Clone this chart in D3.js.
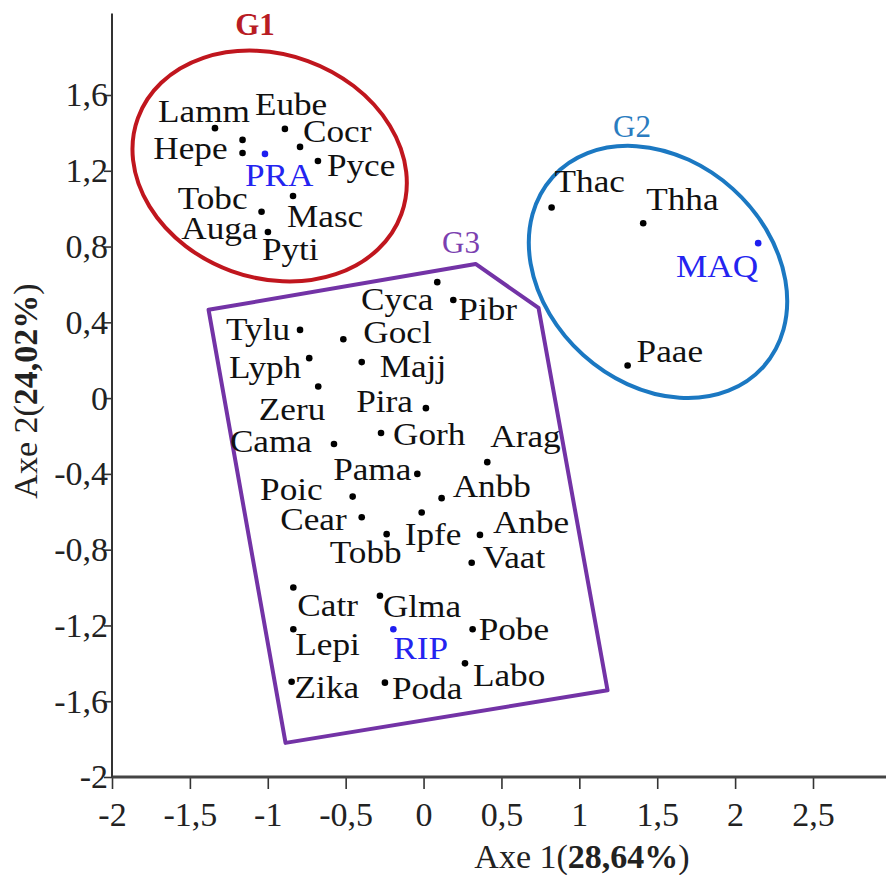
<!DOCTYPE html>
<html>
<head>
<meta charset="utf-8">
<script src="https://cdn.jsdelivr.net/npm/d3@7/dist/d3.min.js"></script>
<style>
  body { margin: 0; background: #fff; }
  svg text { font-family: "Liberation Serif", "Times New Roman", serif; }
</style>
</head>
<body>
<div id="graf"></div>
<script>
// species coordinates on the first factorial plane
const species = ['Lamm','Hepe','Tobc','Eube','Cocr','Pyce','Masc','Auga','Pyti',
  'Thac','Thha','Paae',
  'Cyca','Pibr','Tylu','Gocl','Lyph','Majj','Zeru','Pira','Gorh','Cama','Arag','Pama',
  'Anbb','Poic','Cear','Ipfe','Tobb','Anbe','Vaat','Catr','Glma','Lepi','Pobe','Labo','Zika','Poda']
const axe1 = [-1.339,-1.162,-1.162,-0.890,-0.793,-0.678,-0.838,-1.040,-0.999,
  0.822,1.410,1.310,
  0.088,0.191,-0.793,-0.515,-0.734,-0.397,-0.676,0.015,-0.273,-0.575,0.409,-0.040,
  0.116,-0.455,-0.397,-0.012,-0.237,0.362,0.309,-0.836,-0.280,-0.836,0.315,0.266,-0.847,-0.248]
const axe2 = [1.425,1.363,1.294,1.421,1.326,1.252,1.067,0.984,0.877,
  1.006,0.923,0.172,
  0.612,0.518,0.360,0.311,0.211,0.190,0.061,-0.053,-0.184,-0.242,-0.338,-0.400,
  -0.528,-0.520,-0.629,-0.604,-0.718,-0.722,-0.869,-1.000,-1.043,-1.220,-1.220,-1.400,-1.497,-1.502]

// habitats (supplementary points, blue)
const habitats = ['PRA','MAQ','RIP']
const habAxe1 = [-1.018, 2.148, -0.194]
const habAxe2 = [1.289, 0.818, -1.220]

// group outlines, in axis units
const groups = ['G1','G2']
const grpCx = [-0.988, 1.505]
const grpCy = [1.225, 0.666]
const grpRx = [0.90, 0.91]
const grpRy = [0.59, 0.59]
const g3Axe1 = [-1.380, 0.334, 0.738, 1.181, -0.886]
const g3Axe2 = [0.466, 0.708, 0.476, -1.542, -1.820]

const xTicks = [-2,-1.5,-1,-0.5,0,0.5,1,1.5,2,2.5]
const yTicks = [-2,-1.6,-1.2,-0.8,-0.4,0,0.4,0.8,1.2,1.6]

// label placement: [dx, dy, anchor]
const lab = {
  Lamm:[35,-6,'end'], Hepe:[-15,19,'end'], Tobc:[5,56,'end'], Eube:[-30,-14,'start'],
  Cocr:[3,-5,'start'], Pyce:[9,15,'start'], Masc:[-6,31,'start'], Auga:[-4,27,'end'],
  Pyti:[-6,28,'start'], PRA:[-20,32,'start'],
  Thac:[3,-16,'start'], Thha:[3,-13,'start'], Paae:[9,-4,'start'], MAQ:[0,34,'end'],
  Cyca:[-4,28,'end'], Pibr:[5,20,'start'], Tylu:[-10,10,'end'], Gocl:[20,4,'start'],
  Lyph:[-8,20,'end'], Majj:[18,15,'start'], Zeru:[7,33,'end'], Pira:[-13,4,'end'],
  Gorh:[12,12,'start'], Cama:[-22,8,'end'], Arag:[3,-15,'start'], Pama:[-6,6,'end'],
  Anbb:[11,-1,'start'], Poic:[-30,3,'end'], Cear:[-15,13,'end'], Ipfe:[-17,32,'start'],
  Tobb:[15,29,'end'], Anbe:[13,-2,'start'], Vaat:[11,5,'start'], Catr:[4,28,'start'],
  Glma:[3,21,'start'], Lepi:[2,26,'start'], Pobe:[6,11,'start'], Labo:[8,23,'start'],
  Zika:[3,16,'start'], Poda:[7,16,'start'], RIP:[0,30,'start']
}

const ancho = 886, alto = 875
const svg = d3.select('#graf').append('svg')
    .attr('width', ancho)
    .attr('height', alto)

const x = d3.scaleLinear().domain([-2, 2.5]).range([112, 813])
const y = d3.scaleLinear().domain([-2, 1.6]).range([777, 95])
const coma = d => String(d).replace('.', ',')

// axes
const ax = svg.append('g')
    .attr('transform', `translate(0,${y(-2)})`)
    .call(d3.axisBottom(x).tickValues(xTicks).tickFormat(coma).tickSize(12).tickPadding(13))
ax.select('.domain').remove()
ax.selectAll('.tick line').attr('stroke', '#333').attr('stroke-width', 1.6)
ax.selectAll('text').attr('font-size', 34).attr('fill', '#222')

const ay = svg.append('g')
    .attr('transform', `translate(${x(-2)},0)`)
    .call(d3.axisLeft(y).tickValues(yTicks).tickFormat(coma).tickSize(8).tickPadding(-4))
ay.select('.domain').remove()
ay.selectAll('.tick line').attr('stroke', '#333').attr('stroke-width', 1.6)
ay.selectAll('text').attr('font-size', 34).attr('fill', '#222')

svg.append('line')
    .attr('x1', x(-2)).attr('x2', ancho)
    .attr('y1', y(-2)).attr('y2', y(-2))
    .attr('stroke', '#444').attr('stroke-width', 3)
svg.append('line')
    .attr('x1', x(-2)).attr('x2', x(-2))
    .attr('y1', y(-2)).attr('y2', y(2.03))
    .attr('stroke', '#333').attr('stroke-width', 2)

// axis titles
const tx = svg.append('text')
    .attr('x', 582).attr('y', 868)
    .attr('text-anchor', 'middle').attr('font-size', 34).attr('fill', '#222')
tx.append('tspan').text('Axe 1(')
tx.append('tspan').attr('font-weight', 'bold').text('28,64%')
tx.append('tspan').text(')')

const ty = svg.append('text')
    .attr('transform', 'translate(37,391) rotate(-90)')
    .attr('text-anchor', 'middle').attr('font-size', 34).attr('fill', '#222')
ty.append('tspan').text('Axe 2(')
ty.append('tspan').attr('font-weight', 'bold').text('24,02%')
ty.append('tspan').text(')')

// group outlines
const grpColor = ['#c0161e', '#1b78c2']
const grpRot = [20, 42]
groups.forEach((g, i) => {
    svg.append('ellipse')
        .attr('transform', `translate(${x(grpCx[i])},${y(grpCy[i])}) rotate(${grpRot[i]})`)
        .attr('rx', x(grpCx[i] + grpRx[i]) - x(grpCx[i]))
        .attr('ry', y(grpCy[i]) - y(grpCy[i] + grpRy[i]))
        .attr('fill', 'none')
        .attr('stroke', grpColor[i])
        .attr('stroke-width', 4)
})

svg.append('polygon')
    .attr('points', g3Axe1.map((v, i) => [x(v), y(g3Axe2[i])].join(',')).join(' '))
    .attr('fill', 'none')
    .attr('stroke', '#7333a6')
    .attr('stroke-width', 4)
    .attr('stroke-linejoin', 'round')

svg.append('text').attr('x', 255).attr('y', 35).attr('text-anchor', 'middle')
    .attr('font-size', 31).attr('font-weight', 'bold').attr('fill', '#b81c24').text('G1')
svg.append('text').attr('x', 632).attr('y', 137).attr('text-anchor', 'middle')
    .attr('font-size', 31).attr('fill', '#2a7cc0').text('G2')
svg.append('text').attr('x', 461).attr('y', 253).attr('text-anchor', 'middle')
    .attr('font-size', 31).attr('fill', '#7b3fb0').text('G3')

// species points
const pts = species.map((n, i) => ({ n, a: axe1[i], b: axe2[i], c: '#000' }))
    .concat(habitats.map((n, i) => ({ n, a: habAxe1[i], b: habAxe2[i], c: '#1e1ef0' })))

svg.selectAll('circle.pt')
    .data(pts)
    .enter()
    .append('circle')
    .attr('class', 'pt')
    .attr('cx', d => x(d.a))
    .attr('cy', d => y(d.b))
    .attr('r', 3.3)
    .attr('fill', d => d.c)

// the original lettering is a bit wider than Times, stretch it a little
svg.selectAll('text.lab')
    .data(pts)
    .enter()
    .append('text')
    .attr('class', 'lab')
    .attr('transform', d => `translate(${x(d.a) + lab[d.n][0]},${y(d.b) + lab[d.n][1]}) scale(1.1,1)`)
    .attr('text-anchor', d => lab[d.n][2])
    .attr('font-size', 32)
    .attr('fill', d => d.c === '#000' ? '#111' : '#2424f0')
    .text(d => d.n)
</script>
</body>
</html>
